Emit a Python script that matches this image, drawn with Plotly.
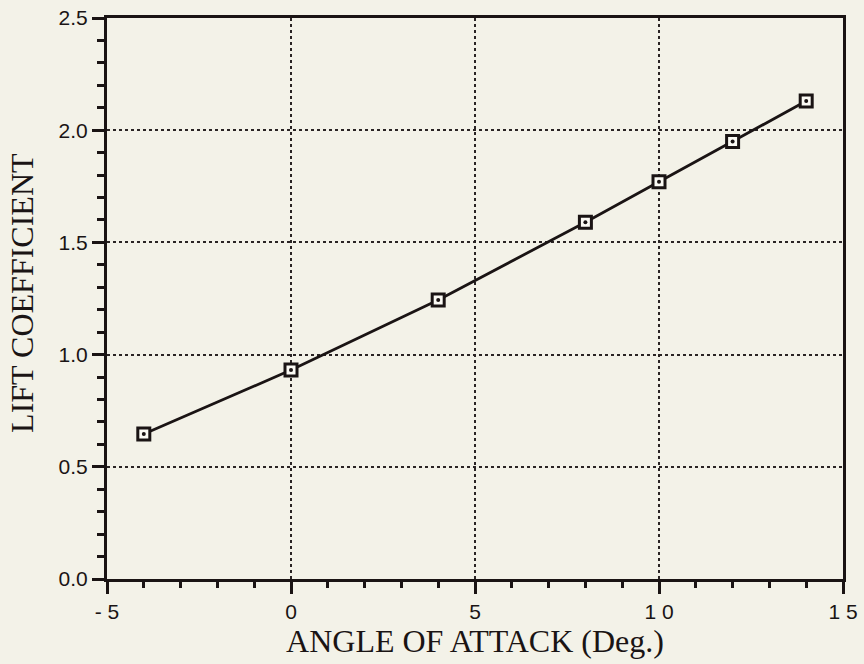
import plotly.graph_objects as go

# Lift coefficient vs. angle of attack
alpha_deg = [-4, 0, 4, 8, 10, 12, 14]
lift_coef = [0.646, 0.931, 1.243, 1.59, 1.77, 1.95, 2.13]

x_tick_vals = [-5, 0, 5, 10, 15]
x_tick_text = ["- 5", "0", "5", "1 0", "1 5"]
y_tick_vals = [0.0, 0.5, 1.0, 1.5, 2.0, 2.5]
y_tick_text = ["0.0", "0.5", "1.0", "1.5", "2.0", "2.5"]

bg = "#f3f2e8"
ink = "#1a1414"
tick_font = dict(family="Liberation Sans, Arial, sans-serif", size=21, color=ink)
title_font = dict(family="Liberation Serif, Times New Roman, serif", size=32, color=ink)

fig = go.Figure()
# curve with open square markers
fig.add_trace(go.Scatter(
    x=alpha_deg, y=lift_coef,
    mode="lines+markers",
    line=dict(color=ink, width=2.8),
    marker=dict(symbol="square", size=12, color="#fbfaf4",
                line=dict(color=ink, width=3)),
    showlegend=False,
))
# centre dot inside each square
fig.add_trace(go.Scatter(
    x=alpha_deg, y=lift_coef,
    mode="markers",
    marker=dict(symbol="circle", size=4, color=ink, line=dict(width=0)),
    showlegend=False,
))

axis_common = dict(
    showline=True, linecolor=ink, linewidth=3, mirror=True,
    ticks="outside", tickcolor=ink, tickwidth=2.5, ticklen=12,
    showgrid=True, gridcolor="#2a2424", gridwidth=1.8, griddash="dot",
    zeroline=False, tickfont=tick_font, automargin=False,
)

fig.update_xaxes(
    range=[-5, 15], tickvals=x_tick_vals, ticktext=x_tick_text,
    minor=dict(dtick=1, ticks="outside", ticklen=6, tickwidth=2.5,
               tickcolor=ink, showgrid=False),
    title=dict(text="ANGLE OF ATTACK (Deg.)", font=title_font, standoff=4),
    **axis_common,
)
fig.update_yaxes(
    range=[0, 2.5], tickvals=y_tick_vals, ticktext=y_tick_text,
    minor=dict(dtick=0.1, ticks="outside", ticklen=7, tickwidth=2.5,
               tickcolor=ink, showgrid=False),
    **axis_common,
)

# vertical axis title placed to the left of the tick labels
fig.add_annotation(
    text="LIFT COEFFICIENT", font=title_font, textangle=-90,
    xref="paper", yref="paper", x=0, y=0.51,
    xanchor="center", yanchor="middle", xshift=-85, showarrow=False,
)

fig.update_layout(
    width=864, height=664,
    margin=dict(l=107, r=21, t=18, b=85),
    paper_bgcolor=bg, plot_bgcolor=bg,
)

fig.write_html("out.html")
